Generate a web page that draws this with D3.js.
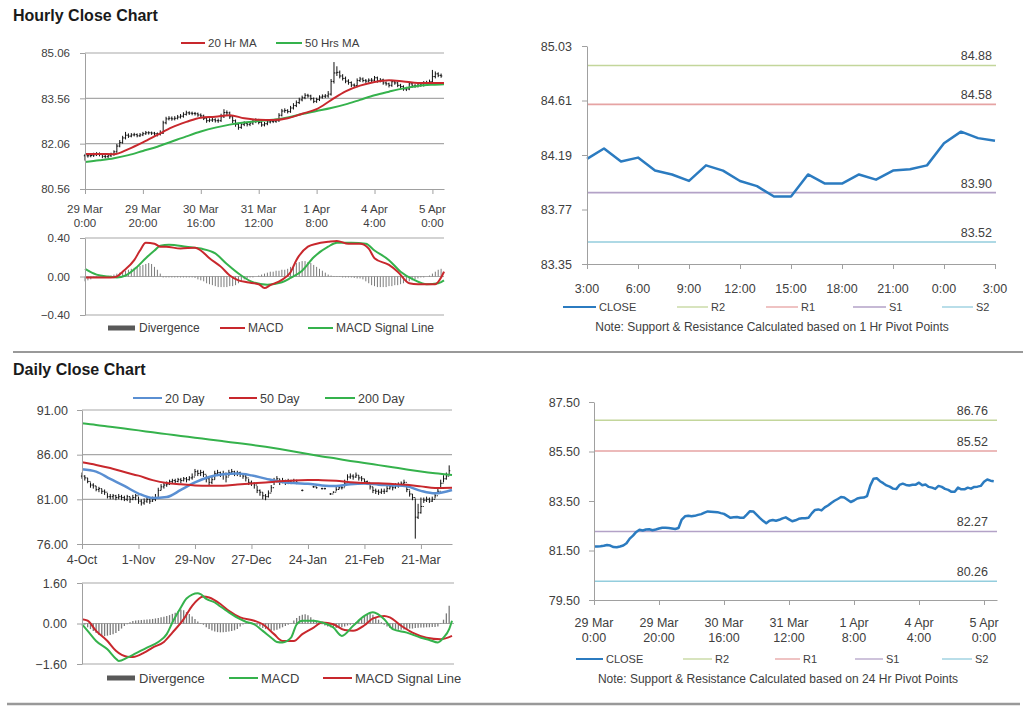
<!DOCTYPE html>
<html><head><meta charset="utf-8">
<script src="https://cdn.jsdelivr.net/npm/d3@7"></script>
<style>
body{margin:0;background:#fff;}
svg{display:block;}
</style></head><body>
<svg id="c" width="1024" height="706"></svg>
<script>
// ---------------- DATA ----------------
// Hourly (29 Mar 0:00 .. 5 Apr 3:00), index 0..123
const hourTickIdx = [0, 20, 40, 60, 80, 100, 120];
const hourTickDay = ["29 Mar", "29 Mar", "30 Mar", "31 Mar", "1 Apr", "4 Apr", "5 Apr"];
const hourTickTime = ["0:00", "20:00", "16:00", "12:00", "8:00", "4:00", "0:00"];

const hourlyClose = [81.66,81.66,81.67,81.69,81.72,81.70,81.64,81.63,81.66,81.70,
 81.79,81.98,82.10,82.25,82.34,82.31,82.35,82.36,82.32,82.35,
 82.39,82.42,82.42,82.41,82.39,82.37,82.41,82.75,82.88,82.90,
 82.88,82.90,82.94,82.97,83.03,83.08,83.07,83.06,83.05,83.01,
 82.98,82.90,82.82,82.84,82.85,82.82,82.82,82.95,83.09,83.08,
 82.95,82.82,82.70,82.60,82.70,82.73,82.70,82.74,82.80,82.84,
 82.76,82.68,82.72,82.78,82.80,82.80,82.82,83.00,83.14,83.16,
 83.12,83.24,83.32,83.42,83.51,83.58,83.66,83.64,83.55,83.46,
 83.52,83.60,83.63,83.64,83.70,84.12,84.40,84.42,84.30,84.22,
 84.13,84.08,84.00,83.98,84.15,84.20,84.15,84.13,84.16,
 84.16,84.24,84.14,84.17,84.07,84.04,83.99,84.11,84.07,83.99,
 83.95,83.87,83.87,84.04,83.97,83.97,84.04,84.00,84.07,84.08,
 84.11,84.28,84.37,84.32,84.30];
const hourlyHigh = [81.72,81.74,81.75,81.76,81.78,81.77,81.73,81.70,81.72,81.76,
 81.84,82.05,82.18,82.32,82.45,82.40,82.41,82.42,82.40,82.41,
 82.45,82.48,82.47,82.46,82.45,82.43,82.50,82.82,82.95,82.97,
 82.96,82.97,83.01,83.04,83.10,83.15,83.13,83.12,83.11,83.09,
 83.06,83.02,82.94,82.90,82.91,82.90,82.89,83.05,83.20,83.16,
 83.12,82.99,82.86,82.75,82.76,82.80,82.78,82.80,82.86,82.90,
 82.88,82.80,82.78,82.84,82.86,82.86,82.88,83.07,83.21,83.23,
 83.20,83.31,83.40,83.49,83.58,83.65,83.73,83.71,83.68,83.59,
 83.58,83.66,83.69,83.70,83.80,84.20,84.76,84.62,84.48,84.36,
 84.28,84.19,84.12,84.05,84.22,84.27,84.25,84.20,84.22,84.23,
 84.30,84.28,84.23,84.21,84.12,84.08,84.17,84.15,84.11,84.04,
 83.99,83.94,84.10,84.08,84.03,84.10,84.08,84.13,84.14,84.18,
 84.50,84.45,84.42,84.38];
const hourlyLow = [81.50,81.60,81.61,81.62,81.65,81.64,81.58,81.57,81.59,81.62,
 81.66,81.76,81.94,82.06,82.20,82.25,82.27,82.30,82.27,82.28,
 82.31,82.35,82.36,82.35,82.32,82.30,82.33,82.38,82.70,82.83,
 82.82,82.83,82.86,82.89,82.92,82.99,83.01,83.00,82.99,82.95,
 82.92,82.84,82.75,82.77,82.78,82.76,82.75,82.78,82.91,83.00,
 82.88,82.74,82.62,82.52,82.55,82.64,82.63,82.64,82.68,82.74,
 82.70,82.62,82.63,82.67,82.73,82.74,82.75,82.78,82.96,83.08,
 83.06,83.08,83.19,83.27,83.37,83.46,83.53,83.58,83.49,83.40,
 83.41,83.47,83.55,83.57,83.58,83.65,84.05,84.30,84.22,84.15,
 84.06,84.01,83.93,83.91,83.93,84.10,84.09,84.07,84.08,84.09,
 84.11,84.08,84.09,84.01,83.98,83.92,83.94,84.01,83.93,83.89,
 83.81,83.80,83.83,83.91,83.91,83.92,83.94,83.95,84.02,84.03,
 84.06,84.22,84.26,84.24];

const maIdxH = [0,5,10,15,20,25,30,35,40,45,50,55,60,65,70,75,80,85,90,95,100,105,110,115,120,124];
const ma20H = [81.72,81.72,81.71,81.88,82.10,82.35,82.60,82.78,82.92,82.95,83.00,82.90,82.85,82.84,82.90,83.05,83.20,83.50,83.79,83.98,84.10,84.16,84.12,84.07,84.07,84.07];
const ma50H = [81.45,81.51,81.58,81.68,81.82,81.96,82.13,82.30,82.46,82.59,82.69,82.76,82.81,82.85,82.93,83.04,83.14,83.24,83.36,83.51,83.66,83.78,83.89,83.97,84.01,84.03];

const macdIdxH = [0,5,9,11,13,17,19,21,24,26,28,33,38,40,43,47,50,53,56,60,62,64,68,71,73,77,80,84,87,91,95,98,100,105,108,112,115,118,121,123,124];
const macdH = [-0.01,-0.01,-0.01,0.00,0.05,0.17,0.27,0.35,0.34,0.31,0.31,0.29,0.30,0.27,0.19,0.10,0.01,-0.04,-0.06,-0.08,-0.12,-0.09,-0.035,0.045,0.17,0.31,0.34,0.36,0.37,0.34,0.34,0.29,0.19,0.12,0.05,-0.07,-0.08,-0.08,-0.08,-0.01,0.05];
const sigIdxH = [0,4,8,11,14,18,21,24,26,29,35,40,45,49,54,58,63,68,71,75,79,84,87,92,97,100,105,109,114,118,122,124];
const signalH = [0.08,0.02,0.00,-0.01,0.01,0.10,0.19,0.27,0.32,0.33,0.31,0.29,0.24,0.13,0.01,-0.06,-0.085,-0.06,-0.015,0.06,0.20,0.31,0.35,0.35,0.34,0.27,0.17,0.05,-0.04,-0.08,-0.07,-0.04];
const divergenceH = [-0.05,-0.04,-0.03,-0.01,-0.01,0,0,0,0.005,0.01,
 0.02,0.03,0.04,0.05,0.06,0.07,0.08,0.09,0.10,0.11,
 0.12,0.13,0.14,0.13,0.10,0.07,0.03,-0.01,-0.01,-0.01,
 -0.01,-0.01,-0.01,-0.01,-0.01,-0.01,-0.01,-0.01,-0.015,-0.03,
 -0.04,-0.05,-0.07,-0.08,-0.09,-0.10,-0.11,-0.11,-0.11,-0.11,
 -0.10,-0.10,-0.09,-0.07,-0.05,-0.03,-0.02,-0.01,-0.01,0,
 0.01,0.02,0.03,0.04,0.05,0.05,0.06,0.06,0.07,0.07,
 0.08,0.10,0.12,0.14,0.15,0.16,0.16,0.15,0.14,0.12,
 0.10,0.08,0.06,0.04,0.02,0.01,0.005,-0.005,-0.005,-0.01,
 -0.01,-0.01,-0.01,-0.015,-0.02,-0.02,-0.03,-0.05,-0.07,-0.09,
 -0.10,-0.11,-0.11,-0.11,-0.11,-0.10,-0.10,-0.09,-0.09,-0.08,
 -0.07,-0.06,-0.05,-0.04,-0.03,-0.02,-0.01,-0.01,0,0.01,
 0.03,0.05,0.07,0.08];

// 1 Hr pivot chart (last 25 hours)
const pivotHourLabels = ["3:00","6:00","9:00","12:00","15:00","18:00","21:00","0:00","3:00"];
const pivot1hLevels = [84.88, 84.58, 83.90, 83.52];   // R2, R1, S1, S2
const pivot1hTicks = [83.35, 83.77, 84.19, 84.61, 85.03];

// 24 Hr pivot chart
const pivot24hLevels = [86.76, 85.52, 82.27, 80.26];  // R2, R1, S1, S2
const pivot24hTicks = [79.50, 81.50, 83.50, 85.50, 87.50];
const levelNames = ["R2", "R1", "S1", "S2"];

// Daily (4-Oct .. 4-Apr trading days), index 0..130
const dayTickIdx = [0, 20, 40, 60, 80, 100, 120];
const dayTickLabels = ["4-Oct", "1-Nov", "29-Nov", "27-Dec", "24-Jan", "21-Feb", "21-Mar"];
const dailyClose = [83.6,83.4,83.0,82.6,82.5,82.1,82.2,81.9,81.8,81.3,
 81.3,81.4,81.2,81.3,81.2,81.0,81.3,81.0,81.2,81.4,
 80.8,80.6,80.8,81.0,80.8,81.0,81.2,82.0,82.4,82.6,
 82.7,83.0,83.1,83.0,83.2,83.1,83.3,83.2,83.4,83.5,
 84.1,83.9,84.0,83.8,83.3,82.9,83.2,83.9,84.0,83.8,
 83.9,83.5,84.0,84.1,83.9,84.0,83.8,83.6,83.4,82.9,
 82.8,82.6,82.0,81.8,81.4,81.3,81.7,82.3,83.0,83.3,
 83.0,83.1,82.9,83.0,82.9,83.1,82.9,null,82.0,null,
 null,null,82.4,82.3,null,82.2,82.2,null,81.6,81.8,
 82.1,82.3,82.3,82.8,83.5,83.6,83.5,83.7,83.4,83.3,
 83.0,82.9,82.4,82.0,81.9,81.8,81.9,81.9,82.2,82.4,
 82.3,82.5,82.6,82.8,82.9,82.1,81.6,81.2,79.0,79.5,
 80.2,80.9,81.0,80.8,81.0,81.4,81.9,82.8,83.3,83.6,
 84.2];
const dailyHigh = [84.0,83.7,83.4,82.9,82.8,82.5,82.4,82.2,82.1,81.7,
 81.6,81.6,81.5,81.6,81.5,81.4,81.5,81.3,81.5,81.6,
 81.3,81.0,81.1,81.3,81.1,81.3,81.6,82.3,82.7,82.9,
 83.0,83.2,83.3,83.3,83.4,83.4,83.5,83.5,83.6,83.9,
 84.4,84.3,84.3,84.2,83.7,83.4,83.5,84.2,84.3,84.1,
 84.2,84.0,84.3,84.4,84.2,84.2,84.1,83.9,83.8,83.3,
 83.1,82.9,82.5,82.1,81.8,81.6,82.0,82.6,83.4,83.6,
 83.3,83.4,83.2,83.3,83.2,83.3,83.2,null,82.1,null,
 null,null,82.5,82.4,null,82.3,82.3,null,81.7,81.9,
 82.4,82.5,82.6,83.2,83.8,83.9,83.8,84.0,83.7,83.6,
 83.3,83.1,82.8,82.4,82.2,82.1,82.2,82.2,82.5,82.7,
 82.6,82.8,82.9,83.0,83.2,82.6,82.0,81.6,81.1,80.5,
 81.2,81.2,81.3,81.2,81.3,81.7,82.2,83.2,83.7,84.0,
 84.8];
const dailyLow = [83.3,83.1,82.8,82.3,82.2,81.9,81.8,81.6,81.5,81.1,
 81.0,81.0,80.9,81.0,80.9,80.8,80.8,80.6,80.9,80.9,
 80.5,80.3,80.4,80.6,80.5,80.7,80.8,81.2,82.0,82.2,
 82.4,82.6,82.8,82.7,82.9,82.8,83.0,82.9,83.1,83.2,
 83.6,83.6,83.6,83.5,82.9,82.6,82.7,83.2,83.6,83.5,
 83.2,82.9,83.6,83.8,83.6,83.6,83.5,83.3,83.0,82.6,
 82.5,82.2,81.7,81.4,81.0,80.9,81.2,81.8,82.6,82.9,
 82.6,82.8,82.6,82.7,82.7,82.8,82.7,null,81.9,null,
 null,null,82.3,82.2,null,82.1,82.1,null,81.5,81.7,
 81.9,82.1,82.1,82.4,83.1,83.3,83.2,83.4,83.1,83.0,
 82.7,82.6,82.1,81.7,81.6,81.5,81.6,81.6,81.8,82.1,
 82.0,82.2,82.3,82.5,82.6,81.8,81.3,80.9,76.6,78.8,
 79.4,80.6,80.7,80.6,80.7,81.1,81.6,82.3,82.9,83.2,
 83.7];

const maIdxD = [0,5,10,15,20,25,30,35,40,45,50,55,60,65,70,75,80,85,90,95,100,105,110,115,120,125,131];
const ma20D = [84.36,84.10,83.28,82.50,81.65,81.15,81.25,82.05,82.90,83.50,83.80,83.88,83.68,83.32,82.98,82.82,82.74,82.56,82.50,82.70,82.78,82.64,82.56,82.45,81.95,81.67,82.04];
const ma50D = [85.14,84.85,84.50,84.05,83.65,83.15,82.82,82.68,82.56,82.52,82.52,82.66,82.78,82.89,83.02,83.12,83.16,83.15,83.08,82.92,82.82,82.80,82.72,82.62,82.45,82.27,82.30];
const ma200D = [89.51,89.33,89.12,88.92,88.72,88.50,88.30,88.10,87.90,87.70,87.50,87.30,87.10,86.88,86.63,86.36,86.07,85.80,85.56,85.30,85.07,84.83,84.59,84.35,84.12,83.92,83.72];

const macdIdxD = [0,2,5,9,12,13,16,19,23,27,30,32,35,37,41,42,44,47,49,52,56,58,61,64,67,69,71,74,76,78,82,85,89,92,96,100,103,107,110,115,120,123,126,128,130,131];
const macdD = [-0.03,-0.29,-0.69,-1.02,-1.39,-1.48,-1.35,-1.18,-0.95,-0.73,-0.42,0.04,0.63,0.99,1.20,1.16,0.97,0.83,0.67,0.44,0.17,0.07,-0.03,-0.29,-0.56,-0.73,-0.75,-0.56,-0.03,0.11,0.11,0.04,-0.16,-0.49,-0.09,0.30,0.44,0.17,-0.22,-0.36,-0.56,-0.65,-0.75,-0.56,-0.22,0.11];
const sigIdxD = [0,2,5,9,12,16,18,22,25,29,32,36,39,43,45,49,52,56,61,64,68,71,75,78,82,85,89,93,96,100,103,107,109,113,117,122,127,131];
const signalD = [0.17,0.11,-0.29,-0.69,-1.08,-1.31,-1.32,-1.15,-0.95,-0.73,-0.36,0.17,0.70,1.07,1.03,0.77,0.50,0.24,0.11,-0.03,-0.42,-0.69,-0.69,-0.42,-0.16,0.04,-0.03,-0.26,-0.29,-0.07,0.20,0.30,0.24,-0.09,-0.36,-0.56,-0.62,-0.49];
const divergenceD = [0.00,-0.05,-0.15,-0.22,-0.30,-0.38,-0.45,-0.48,-0.50,-0.48,
 -0.45,-0.42,-0.38,-0.30,-0.20,-0.10,-0.03,0.05,0.10,0.12,
 0.13,0.14,0.15,0.16,0.17,0.18,0.20,0.22,0.25,0.27,
 0.30,0.33,0.38,0.42,0.48,0.55,0.52,0.45,0.38,0.28,
 0.18,0.08,0.02,-0.05,-0.15,-0.22,-0.28,-0.32,-0.34,-0.35,
 -0.35,-0.34,-0.32,-0.30,-0.27,-0.22,-0.12,-0.04,0.02,0.04,
 0.04,0.02,-0.05,-0.12,-0.18,-0.22,-0.26,-0.28,-0.28,-0.25,
 -0.20,-0.15,-0.10,-0.05,0.02,0.12,0.22,0.30,0.35,0.37,
 0.33,0.25,0.15,0.08,0.03,-0.03,-0.08,-0.12,-0.15,-0.17,
 -0.18,-0.17,-0.15,-0.12,-0.08,-0.05,-0.02,0.05,0.12,0.20,
 0.30,0.38,0.40,0.35,0.25,0.15,0.05,-0.05,-0.12,-0.18,
 -0.22,-0.24,-0.25,-0.25,-0.24,-0.22,-0.20,-0.20,-0.18,-0.17,
 -0.16,-0.16,-0.15,-0.15,-0.14,-0.14,-0.12,-0.02,0.15,0.40,
 0.70];

// ---------------- DRAWING ----------------
const svg = d3.select("#c");
const FONT = '"Liberation Sans", Arial, Helvetica, sans-serif';
const TXT = "#404040", AXC = "#a0a0a0", GRIDC = "#a8a8a8";
const RED = "#c8282d", GREEN = "#35b24c", BLUE20 = "#5a8fd2", CLOSEC = "#2b7bc0", HISTC = "#7b7b7b";
const levelColors = ["#c3d69b", "#e6a3a3", "#b3a2c7", "#93cddd"];

function styleAxis(g, fs) {
  g.attr("font-family", FONT);
  g.select(".domain").attr("stroke", AXC);
  g.selectAll(".tick line").attr("stroke", AXC);
  g.selectAll(".tick text").attr("fill", TXT).attr("font-size", fs);
}
function leftAxis(y, ticks, x0, fs, pad) {
  const g = svg.append("g").attr("transform", `translate(${x0},0)`)
    .call(d3.axisLeft(y).tickValues(ticks).tickFormat(d3.format(".2f")).tickSizeInner(5).tickSizeOuter(0).tickPadding(pad));
  styleAxis(g, fs);
}
function bottomAxis(x, y0, ticks) {
  const g = svg.append("g").attr("transform", `translate(0,${y0})`)
    .call(d3.axisBottom(x).tickValues(ticks).tickFormat("").tickSizeInner(5).tickSizeOuter(0));
  styleAxis(g, 11);
}
function grid(x0, x1, y, vals) {
  svg.append("g").selectAll("line").data(vals).join("line")
    .attr("x1", x0).attr("x2", x1).attr("y1", d => y(d)).attr("y2", d => y(d))
    .attr("stroke", GRIDC).attr("stroke-width", 1.2);
}
function labels(x, ticks, texts, yy, fs) {
  svg.append("g").attr("font-family", FONT).attr("font-size", fs).attr("fill", TXT).attr("text-anchor", "middle")
    .selectAll("text").data(ticks).join("text")
    .attr("x", d => x(d)).attr("y", yy).text((d, i) => texts[i]);
}
function series(x, y, idx, vals, color, w) {
  svg.append("path").datum(vals.map((v, i) => [idx[i], v]))
    .attr("fill", "none").attr("stroke", color).attr("stroke-width", w).attr("stroke-linejoin", "round")
    .attr("d", d3.line().x(d => x(d[0])).y(d => y(d[1])).curve(d3.curveMonotoneX));
}
function ohlc(x, y, close, high, low, tick) {
  const bars = close.map((c, i) => ({i, c, h: high[i], l: low[i], o: (i > 0 && close[i-1] != null) ? close[i-1] : c}))
    .filter(d => d.c != null);
  const g = svg.append("g").attr("stroke", "#111").attr("stroke-width", 1).attr("fill", "none");
  g.selectAll("path").data(bars).join("path")
    .attr("d", d => `M${x(d.i)},${y(d.l)}V${y(d.h)}M${x(d.i) - tick},${y(d.o)}H${x(d.i)}M${x(d.i)},${y(d.c)}H${x(d.i) + tick}`);
}
function hist(x, y, vals, w) {
  svg.append("g").selectAll("line").data(vals).join("line")
    .attr("x1", (d, i) => x(i)).attr("x2", (d, i) => x(i))
    .attr("y1", y(0)).attr("y2", d => y(d))
    .attr("stroke", HISTC).attr("stroke-width", w);
}
function legendLine(x1, x2, yy, color, w, text, fs) {
  svg.append("line").attr("x1", x1).attr("x2", x2).attr("y1", yy).attr("y2", yy)
    .attr("stroke", color).attr("stroke-width", w);
  svg.append("text").attr("x", x2 + 3).attr("y", yy + fs * 0.36).attr("font-family", FONT)
    .attr("font-size", fs).attr("fill", TXT).text(text);
}
function legendBar(x1, x2, yy, text, fs) {
  svg.append("rect").attr("x", x1).attr("y", yy - 2.5).attr("width", x2 - x1).attr("height", 5).attr("fill", "#595959");
  svg.append("text").attr("x", x2 + 4).attr("y", yy + fs * 0.36).attr("font-family", FONT)
    .attr("font-size", fs).attr("fill", TXT).text(text);
}
function title(text, yy) {
  svg.append("text").attr("x", 13).attr("y", yy).attr("font-family", FONT).attr("font-weight", "bold")
    .attr("font-size", 16).attr("fill", "#1a1a1a").text(text);
}

// ---- Titles & separators ----
title("Hourly Close Chart", 21);
title("Daily Close Chart", 375);
svg.append("line").attr("x1", 13).attr("x2", 1023).attr("y1", 352).attr("y2", 352).attr("stroke", "#999").attr("stroke-width", 2);
svg.append("line").attr("x1", 7).attr("x2", 1020).attr("y1", 704).attr("y2", 704).attr("stroke", "#999").attr("stroke-width", 2.5);

// ---- Panel A: hourly price ----
{
  const x = d3.scaleLinear().domain([0, 124]).range([85, 444]);
  const y = d3.scaleLinear().domain([80.56, 85.06]).range([189, 53]);
  grid(85, 444, y, [82.06, 83.56, 85.06]);
  ohlc(x, y, hourlyClose, hourlyHigh, hourlyLow, 1.2);
  series(x, y, maIdxH, ma50H, GREEN, 2);
  series(x, y, maIdxH, ma20H, RED, 2);
  leftAxis(y, [80.56, 82.06, 83.56, 85.06], 85, 11.5, 10);
  bottomAxis(x, 189, hourTickIdx);
  labels(x, hourTickIdx, hourTickDay, 213, 11.5);
  labels(x, hourTickIdx, hourTickTime, 227, 11.5);
  legendLine(181, 205, 43, RED, 2, "20 Hr MA", 11.5);
  legendLine(276, 302, 43, GREEN, 2, "50 Hrs MA", 11.5);
}
// ---- Panel B: hourly MACD ----
{
  const x = d3.scaleLinear().domain([0, 124]).range([85, 444]);
  const y = d3.scaleLinear().domain([-0.40, 0.40]).range([315, 238]);
  grid(85, 444, y, [-0.40, 0, 0.40]);
  hist(x, y, divergenceH, 1);
  series(x, y, sigIdxH, signalH, GREEN, 2);
  series(x, y, macdIdxH, macdH, RED, 2);
  leftAxis(y, [-0.40, 0, 0.40], 85, 11.5, 10);
  legendBar(108, 135, 328, "Divergence", 12);
  legendLine(220, 245, 328, RED, 2, "MACD", 12);
  legendLine(308, 333, 328, GREEN, 2, "MACD  Signal Line", 12);
}
// ---- Panel C: 1 Hr pivot ----
{
  const last = hourlyClose.slice(-25);
  const x = d3.scaleLinear().domain([0, 24]).range([587, 995]);
  const y = d3.scaleLinear().domain([83.35, 85.03]).range([264, 46]);
  svg.append("g").selectAll("line").data(pivot1hLevels).join("line")
    .attr("x1", 587).attr("x2", 996).attr("y1", d => y(d)).attr("y2", d => y(d))
    .attr("stroke", (d, i) => levelColors[i]).attr("stroke-width", 1.6);
  svg.append("g").attr("font-family", FONT).attr("font-size", 12.5).attr("fill", TXT).attr("text-anchor", "end")
    .selectAll("text").data(pivot1hLevels).join("text")
    .attr("x", 992).attr("y", d => y(d) - 5).text(d => d.toFixed(2));
  svg.append("path").datum(last).attr("fill", "none").attr("stroke", CLOSEC).attr("stroke-width", 2.5)
    .attr("stroke-linejoin", "round")
    .attr("d", d3.line().x((d, i) => x(i)).y(d => y(d)));
  leftAxis(y, pivot1hTicks, 587, 12.5, 10);
  const tIdx = pivotHourLabels.map((d, i) => i * 3);
  bottomAxis(x, 264, tIdx);
  labels(x, tIdx, pivotHourLabels, 293, 12.5);
  legendLine(563, 596, 307, CLOSEC, 2, "CLOSE", 11);
  [[677, 708], [766, 798], [853, 886], [942, 973]].forEach((p, i) =>
    legendLine(p[0], p[1], 307, levelColors[i], 1.3, levelNames[i], 11));
  svg.append("text").attr("x", 772).attr("y", 331).attr("text-anchor", "middle").attr("font-family", FONT)
    .attr("font-size", 12).attr("fill", TXT).text("Note: Support & Resistance Calculated based on 1 Hr Pivot Points");
}
// ---- Panel D: daily price ----
{
  const x = d3.scaleLinear().domain([0, 131]).range([82, 452]);
  const y = d3.scaleLinear().domain([76, 91]).range([544, 410]);
  grid(82, 452, y, [81, 86, 91]);
  ohlc(x, y, dailyClose, dailyHigh, dailyLow, 1.1);
  series(x, y, maIdxD, ma200D, GREEN, 2);
  series(x, y, maIdxD, ma20D, BLUE20, 2.5);
  series(x, y, maIdxD, ma50D, RED, 2);
  leftAxis(y, [76, 81, 86, 91], 82, 12.5, 9);
  bottomAxis(x, 544, dayTickIdx);
  labels(x, dayTickIdx, dayTickLabels, 564, 12.5);
  legendLine(133, 162, 398, BLUE20, 2, "20 Day", 12.5);
  legendLine(229, 257, 398, RED, 2, "50 Day", 12.5);
  legendLine(325, 355, 398, GREEN, 2, "200 Day", 12.5);
}
// ---- Panel E: daily MACD ----
{
  const x = d3.scaleLinear().domain([0, 131]).range([82, 452]);
  const y = d3.scaleLinear().domain([-1.6, 1.6]).range([664, 583]);
  grid(82, 454, y, [-1.6, 0, 1.6]);
  hist(x, y, divergenceD, 1.3);
  series(x, y, sigIdxD, signalD, RED, 2);
  series(x, y, macdIdxD, macdD, GREEN, 2);
  leftAxis(y, [-1.6, 0, 1.6], 82, 12.5, 10);
  legendBar(107, 135, 678, "Divergence", 13);
  legendLine(229, 258, 678, GREEN, 2, "MACD", 13);
  legendLine(323, 352, 678, RED, 2, "MACD  Signal Line", 13);
}
// ---- Panel F: 24 Hr pivot ----
{
  const x = d3.scaleLinear().domain([0, 124]).range([594, 997]);
  const y = d3.scaleLinear().domain([79.5, 87.5]).range([600, 402]);
  svg.append("g").selectAll("line").data(pivot24hLevels).join("line")
    .attr("x1", 594).attr("x2", 997).attr("y1", d => y(d)).attr("y2", d => y(d))
    .attr("stroke", (d, i) => levelColors[i]).attr("stroke-width", 1.6);
  svg.append("g").attr("font-family", FONT).attr("font-size", 12.5).attr("fill", TXT).attr("text-anchor", "end")
    .selectAll("text").data(pivot24hLevels).join("text")
    .attr("x", 988).attr("y", d => y(d) - 5).text(d => d.toFixed(2));
  svg.append("path").datum(hourlyClose).attr("fill", "none").attr("stroke", CLOSEC).attr("stroke-width", 2.5)
    .attr("stroke-linejoin", "round")
    .attr("d", d3.line().x((d, i) => x(i)).y(d => y(d)));
  leftAxis(y, pivot24hTicks, 594, 12.5, 9);
  bottomAxis(x, 600, hourTickIdx);
  labels(x, hourTickIdx, hourTickDay, 627, 12.5);
  labels(x, hourTickIdx, hourTickTime, 642, 12.5);
  legendLine(576, 603, 659, CLOSEC, 2, "CLOSE", 11);
  [[683, 712], [775, 800], [855, 883], [942, 972]].forEach((p, i) =>
    legendLine(p[0], p[1], 659, levelColors[i], 1.3, levelNames[i], 11));
  svg.append("text").attr("x", 778).attr("y", 683).attr("text-anchor", "middle").attr("font-family", FONT)
    .attr("font-size", 12).attr("fill", TXT).text("Note: Support & Resistance Calculated based on 24 Hr Pivot Points");
}
</script>
</body></html>
